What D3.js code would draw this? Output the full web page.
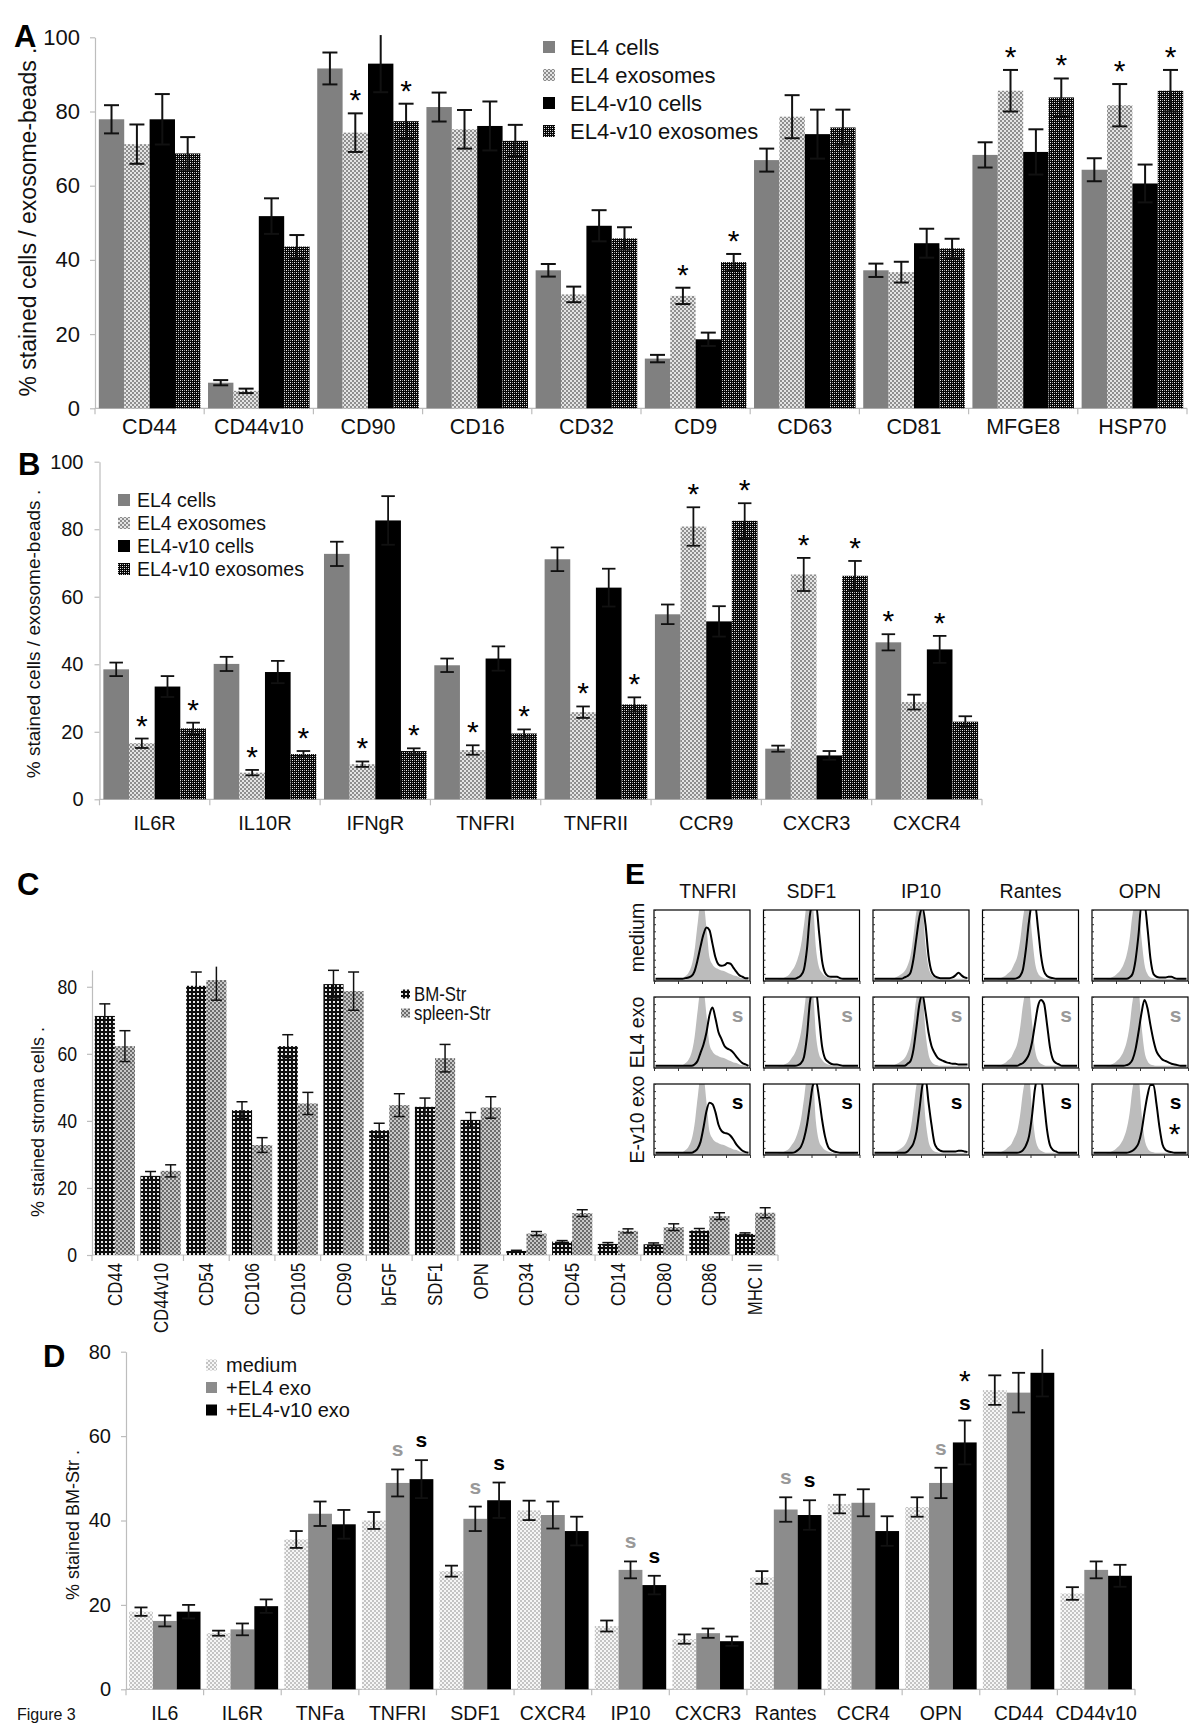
<!DOCTYPE html>
<html><head><meta charset="utf-8">
<script src="https://cdn.jsdelivr.net/npm/d3@7"></script>
<style>body{margin:0;background:#fff}</style>
</head><body>
<svg id="fig" width="1200" height="1730"></svg>
<script>
// ---------------- Panel A data ----------------
const aCategories = ["CD44","CD44v10","CD90","CD16","CD32","CD9","CD63","CD81","MFGE8","HSP70"];
const aSeries = ["EL4 cells","EL4 exosomes","EL4-v10 cells","EL4-v10 exosomes"];
const aEL4Cells    = [77.9, 6.9, 91.6, 81.2, 37.2, 13.4, 66.9, 37.2, 68.3, 64.3];
const aEL4CellsErr = [3.8, 0.7, 4.3, 3.9, 1.7, 1.0, 3.1, 1.8, 3.4, 3.1];
const aEL4Exo      = [71.2, 4.7, 74.3, 75.2, 30.7, 30.3, 78.6, 36.7, 85.6, 81.7];
const aEL4ExoErr   = [5.3, 0.6, 5.2, 5.2, 2.1, 2.2, 5.8, 2.8, 5.6, 5.7];
const aV10Cells    = [77.9, 51.8, 92.9, 76.1, 49.2, 18.6, 73.9, 44.5, 69.1, 60.6];
const aV10CellsErr = [6.8, 4.8, 7.7, 6.6, 4.2, 1.8, 6.6, 3.9, 6.1, 5.1];
const aV10Exo      = [68.7, 43.6, 77.4, 72.1, 45.8, 39.4, 75.7, 43.1, 83.8, 85.6];
const aV10ExoErr   = [4.4, 3.1, 4.7, 4.3, 3.0, 2.2, 4.8, 2.6, 5.1, 5.6];
const aStarEL4Cells = [0,0,0,0,0,0,0,0,0,0];
const aStarEL4Exo   = [0,0,1,0,0,1,0,0,1,1];
const aStarV10Cells = [0,0,0,0,0,0,0,0,0,0];
const aStarV10Exo   = [0,0,1,0,0,1,0,0,1,1];
const aYTicks = [0,20,40,60,80,100];
const aYTitle = "% stained cells / exosome-beads .";

// ---------------- Panel B data ----------------
const bCategories = ["IL6R","IL10R","IFNgR","TNFRI","TNFRII","CCR9","CXCR3","CXCR4"];
const bEL4Cells    = [38.5, 40.1, 72.7, 39.7, 71.1, 54.8, 15.0, 46.5];
const bEL4CellsErr = [2.0, 2.1, 3.6, 2.0, 3.5, 2.9, 0.9, 2.4];
const bEL4Exo      = [16.6, 7.9, 10.4, 14.6, 25.8, 80.8, 66.6, 28.8];
const bEL4ExoErr   = [1.4, 0.8, 0.8, 1.4, 1.7, 5.7, 4.9, 2.2];
const bV10Cells    = [33.4, 37.7, 82.6, 41.7, 62.7, 52.7, 13.0, 44.4];
const bV10CellsErr = [3.1, 3.3, 7.2, 3.6, 5.6, 4.5, 1.3, 4.0];
const bV10Exo      = [21.0, 13.4, 14.3, 19.5, 28.1, 82.5, 66.2, 23.0];
const bV10ExoErr   = [1.7, 0.9, 0.8, 1.2, 2.1, 5.2, 4.4, 1.6];
const bStarEL4Cells = [0,0,0,0,0,0,0,1];
const bStarEL4Exo   = [1,1,1,1,1,1,1,0];
const bStarV10Cells = [0,0,0,0,0,0,0,1];
const bStarV10Exo   = [1,1,1,1,1,1,1,0];
const bYTicks = [0,20,40,60,80,100];
const bYTitle = "% stained cells / exosome-beads .";

// ---------------- Panel C data ----------------
const cCategories = ["CD44","CD44v10","CD54","CD106","CD105","CD90","bFGF","SDF1","OPN","CD34","CD45","CD14","CD80","CD86","MHC II"];
const cSeries = ["BM-Str","spleen-Str"];
const cBM        = [71.3, 23.6, 80.3, 43.2, 62.3, 80.8, 37.2, 44.2, 40.3, 1.2, 4.0, 3.3, 3.2, 7.3, 6.3];
const cBMErr     = [3.6, 1.3, 4.1, 2.5, 3.4, 4.1, 2.1, 2.6, 2.2, 0.2, 0.3, 0.4, 0.4, 0.6, 0.3];
const cSpleen    = [62.3, 25.1, 82.0, 32.8, 45.2, 78.7, 44.7, 58.7, 44.0, 6.4, 12.5, 7.2, 8.3, 11.6, 12.6];
const cSpleenErr = [4.6, 1.8, 6.0, 2.2, 3.3, 5.7, 3.4, 4.1, 3.2, 0.6, 1.0, 0.6, 1.0, 1.0, 1.5];
const cYTicks = [0,20,40,60,80];
const cYTitle = "% stained stroma cells .";

// ---------------- Panel D data ----------------
const dCategories = ["IL6","IL6R","TNFa","TNFRI","SDF1","CXCR4","IP10","CXCR3","Rantes","CCR4","OPN","CD44","CD44v10"];
const dSeries = ["medium","+EL4 exo","+EL4-v10 exo"];
const dMedium    = [18.4, 13.3, 35.5, 40.0, 28.0, 42.4, 15.0, 11.9, 26.5, 43.9, 43.2, 70.9, 22.7];
const dMediumErr = [1.0, 0.6, 2.0, 2.0, 1.3, 2.3, 1.3, 1.1, 1.5, 2.2, 2.3, 3.5, 1.5];
const dEL4       = [16.2, 14.2, 41.6, 48.9, 40.4, 41.3, 28.3, 13.3, 42.6, 44.2, 48.9, 70.3, 28.3];
const dEL4Err    = [1.3, 1.4, 2.9, 3.2, 2.9, 3.2, 2.0, 1.1, 2.9, 3.2, 3.6, 4.7, 2.0];
const dV10       = [18.4, 19.7, 39.1, 49.8, 44.8, 37.5, 24.7, 11.4, 41.3, 37.5, 58.5, 75.0, 26.9];
const dV10Err    = [1.6, 1.6, 3.4, 4.5, 4.2, 3.4, 2.2, 1.1, 3.5, 3.5, 5.2, 5.6, 2.6];
const dSigEL4  = [0,0,0,1,1,0,1,0,1,0,1,0,0];
const dSigV10  = [0,0,0,1,1,0,1,0,1,0,1,0,0];
const dStarV10 = [0,0,0,0,0,0,0,0,0,0,1,0,0];
const dYTicks = [0,20,40,60,80];
const dYTitle = "% stained BM-Str .";

// ---------------- Panel E data (flow histograms, 32 bins, fraction of box height) ----------------
const eColumns = ["TNFRI","SDF1","IP10","Rantes","OPN"];
const eRows = ["medium","EL4 exo","E-v10 exo"];
const eGreyTNFRI  = [0,0,0,0,0,0,0,0.01,0.01,0.02,0.05,0.1,0.2,0.42,0.8,1.1,1.1,0.75,0.32,0.22,0.17,0.15,0.13,0.12,0.1,0.08,0.06,0.05,0.03,0.02,0.01,0];
const eGreySDF1   = [0,0,0,0,0,0.01,0.02,0.04,0.07,0.13,0.2,0.32,0.5,0.8,1.1,1.1,1.05,0.45,0.18,0.1,0.05,0.03,0.02,0.01,0.01,0.01,0.01,0.01,0.01,0.01,0,0];
const eGreyIP10   = [0,0,0,0,0,0,0.01,0.03,0.05,0.08,0.12,0.2,0.35,0.65,1.0,1.1,1.05,0.5,0.18,0.07,0.03,0.02,0.01,0.01,0.01,0.01,0.01,0.01,0.01,0.01,0.01,0];
const eGreyRantes = [0,0,0,0,0,0.01,0.03,0.05,0.09,0.13,0.22,0.32,0.55,0.9,1.1,1.1,0.65,0.25,0.09,0.04,0.02,0.01,0.01,0.01,0.01,0.01,0.01,0.01,0.01,0.01,0.01,0];
const eGreyOPN    = [0,0,0,0,0,0.01,0.03,0.05,0.09,0.14,0.22,0.35,0.58,0.95,1.1,1.1,0.6,0.22,0.08,0.03,0.02,0.01,0.01,0.01,0.01,0.01,0.01,0.01,0.01,0.01,0.01,0];

const eTNFRIMedium = [0.01,0.01,0.01,0.01,0.01,0.01,0.01,0.01,0.01,0.01,0.02,0.03,0.05,0.12,0.28,0.48,0.66,0.76,0.72,0.52,0.32,0.22,0.2,0.21,0.24,0.23,0.17,0.11,0.06,0.04,0.02,0.02];
const eTNFRIEL4    = [0.01,0.01,0.01,0.01,0.01,0.01,0.01,0.01,0.01,0.01,0.01,0.01,0.01,0.03,0.08,0.2,0.32,0.5,0.75,0.86,0.7,0.5,0.4,0.3,0.26,0.24,0.2,0.14,0.09,0.05,0.03,0.01];
const eTNFRIV10    = [0.01,0.01,0.01,0.01,0.01,0.01,0.01,0.01,0.01,0.01,0.01,0.01,0.01,0.03,0.07,0.17,0.38,0.62,0.74,0.72,0.6,0.42,0.33,0.3,0.29,0.26,0.2,0.13,0.08,0.04,0.02,0.01];
const eSDF1Medium  = [0.01,0.01,0.01,0.01,0.01,0.01,0.01,0.01,0.01,0.01,0.01,0.03,0.06,0.15,0.45,0.95,1.1,1.1,0.7,0.28,0.1,0.05,0.04,0.04,0.04,0.02,0.01,0.01,0.01,0.01,0.01,0.01];
const eSDF1EL4     = [0.01,0.01,0.01,0.01,0.01,0.01,0.01,0.01,0.01,0.01,0.01,0.02,0.05,0.14,0.45,0.95,1.1,1.1,0.72,0.3,0.12,0.07,0.04,0.03,0.03,0.02,0.01,0.01,0.01,0.01,0.01,0.01];
const eSDF1V10     = [0.01,0.01,0.01,0.01,0.01,0.01,0.01,0.01,0.01,0.01,0.02,0.05,0.1,0.22,0.42,0.72,1.0,1.05,0.82,0.5,0.25,0.1,0.05,0.03,0.02,0.01,0.01,0.01,0.01,0.01,0.01,0.01];
const eIP10Medium  = [0.01,0.01,0.01,0.01,0.01,0.01,0.01,0.01,0.01,0.01,0.03,0.05,0.1,0.3,0.62,0.92,1.05,0.8,0.35,0.12,0.05,0.03,0.02,0.02,0.02,0.02,0.03,0.06,0.1,0.06,0.03,0.02];
const eIP10EL4     = [0.01,0.01,0.01,0.01,0.01,0.01,0.01,0.01,0.01,0.01,0.01,0.04,0.08,0.25,0.58,0.92,1.05,0.8,0.5,0.3,0.2,0.13,0.1,0.08,0.06,0.05,0.04,0.04,0.03,0.03,0.03,0.03];
const eIP10V10     = [0.01,0.01,0.01,0.01,0.01,0.01,0.01,0.01,0.01,0.01,0.01,0.03,0.08,0.15,0.32,0.65,1.0,1.1,0.75,0.42,0.15,0.07,0.04,0.03,0.03,0.03,0.03,0.03,0.04,0.04,0.03,0.02];
const eRantesMedium = [0.01,0.01,0.01,0.01,0.01,0.01,0.01,0.01,0.01,0.01,0.01,0.02,0.05,0.15,0.45,0.85,1.1,1.1,0.75,0.35,0.12,0.05,0.03,0.02,0.01,0.01,0.01,0.01,0.01,0.01,0.01,0.01];
const eRantesEL4    = [0.01,0.01,0.01,0.01,0.01,0.01,0.01,0.01,0.01,0.01,0.01,0.01,0.03,0.05,0.1,0.18,0.35,0.62,0.88,0.97,0.92,0.62,0.28,0.1,0.05,0.03,0.01,0.01,0.01,0.01,0.01,0.01];
const eRantesV10    = [0.01,0.01,0.01,0.01,0.01,0.01,0.01,0.01,0.01,0.01,0.01,0.01,0.02,0.05,0.12,0.25,0.55,0.95,1.1,1.1,0.75,0.35,0.12,0.05,0.03,0.01,0.01,0.01,0.01,0.01,0.01,0.01];
const eOPNMedium    = [0.01,0.01,0.01,0.01,0.01,0.01,0.01,0.01,0.01,0.01,0.01,0.01,0.03,0.08,0.28,0.65,1.1,1.1,0.75,0.3,0.08,0.04,0.03,0.03,0.03,0.04,0.04,0.02,0.01,0.01,0.01,0.01];
const eOPNEL4       = [0.01,0.01,0.01,0.01,0.01,0.01,0.01,0.01,0.01,0.01,0.01,0.02,0.04,0.1,0.25,0.5,0.78,0.97,0.85,0.6,0.38,0.22,0.15,0.1,0.08,0.06,0.04,0.03,0.02,0.01,0.01,0.01];
const eOPNV10       = [0.01,0.01,0.01,0.01,0.01,0.01,0.01,0.01,0.01,0.01,0.01,0.01,0.02,0.04,0.08,0.15,0.32,0.6,0.85,1.0,1.0,0.72,0.38,0.13,0.05,0.03,0.02,0.01,0.01,0.01,0.01,0.01];
const eSigEL4  = [1,1,1,1,1];
const eSigV10  = [1,1,1,1,1];
const eStarV10 = [0,0,0,0,1];

// ---------------- drawing ----------------
const svg = d3.select("#fig");
svg.append("rect").attr("width",1200).attr("height",1730).attr("fill","#fff");
const FONT = "'Liberation Sans', Arial, sans-serif";
const AXC = "#bdbdbd";
const TXT = "#111";

// condense text along its own direction (imitates a narrow typeface)
function squeeze(sel, f){
  if(!f || f===1) return;
  sel.each(function(){
    const n = this; const L = n.getComputedTextLength();
    d3.select(n).attr("textLength", (L*f).toFixed(2)).attr("lengthAdjust","spacingAndGlyphs");
  });
}

const defs = svg.append("defs");
function pattern(id, size, bg, cells){
  const p = defs.append("pattern").attr("id",id).attr("patternUnits","userSpaceOnUse").attr("width",size).attr("height",size);
  p.append("rect").attr("width",size).attr("height",size).attr("fill",bg);
  cells.forEach(c=>p.append("rect").attr("x",c[0]).attr("y",c[1]).attr("width",c[2]).attr("height",c[3]).attr("fill",c[4]));
}
pattern("pLight",4,"#e4e4e4",[[0,0,2,2,"#8e8e8e"],[2,2,2,2,"#8e8e8e"]]);
pattern("pDark",4,"#050505",[[0,0,1,1,"#f0f0f0"],[2,2,1,1,"#f0f0f0"],[2,0,1,1,"#9a9a9a"],[0,2,1,1,"#9a9a9a"]]);
pattern("pBM",4,"#0d0d0d",[[1,1,2,2,"#e6e6e6"]]);
pattern("pSpleen",4,"#c8c8c8",[[0,0,2,2,"#6c6c6c"],[2,2,2,2,"#6c6c6c"]]);
pattern("pMedium",4,"#f6f6f6",[[0,0,2,2,"#c4c4c4"],[2,2,2,2,"#c4c4c4"]]);

function barPanel(cfg){
  const g = svg.append("g");
  const sq = cfg.squeeze || 1;
  const x = d3.scaleBand().domain(cfg.cats).range([cfg.left, cfg.right]).paddingInner(cfg.pad).paddingOuter(cfg.pad/2);
  const xs = d3.scaleBand().domain(d3.range(cfg.vals.length)).range([0, x.bandwidth()]);
  const y = d3.scaleLinear().domain([0, cfg.max]).range([cfg.bottom, cfg.top]);
  // y axis
  const yg = g.append("g").attr("transform",`translate(${cfg.left},0)`)
    .call(d3.axisLeft(y).tickValues(cfg.ticks).tickSize(5).tickSizeOuter(0).tickPadding(cfg.tickPad));
  yg.select(".domain").attr("stroke",AXC).attr("stroke-width",1.2);
  yg.selectAll(".tick line").attr("stroke",AXC).attr("stroke-width",1.2);
  const yt = yg.selectAll(".tick text").attr("font-size",cfg.yFont).attr("font-family",FONT).attr("fill",TXT);
  squeeze(yt, sq);
  // x axis line + boundary ticks
  g.append("line").attr("x1",cfg.left).attr("x2",cfg.right).attr("y1",cfg.bottom).attr("y2",cfg.bottom).attr("stroke",AXC).attr("stroke-width",1.2);
  const b0 = x(cfg.cats[0]) - x.paddingInner()*x.step()/2;
  g.selectAll(".bt").data(d3.range(cfg.cats.length+1)).join("line")
    .attr("x1",i=>b0+i*x.step()).attr("x2",i=>b0+i*x.step())
    .attr("y1",cfg.bottom).attr("y2",cfg.bottom+6).attr("stroke",AXC).attr("stroke-width",1.2);
  // category labels
  let cl;
  if(cfg.rotate){
    cl = g.selectAll(".cl").data(cfg.cats).join("text")
      .attr("transform",c=>`translate(${x(c)+x.bandwidth()/2},${cfg.labelY}) rotate(-90)`)
      .attr("text-anchor","end").attr("dy","0.35em")
      .attr("font-size",cfg.xFont).attr("font-family",FONT).attr("fill",TXT).text(c=>c);
  } else {
    cl = g.selectAll(".cl").data(cfg.cats).join("text")
      .attr("x",c=>x(c)+x.bandwidth()/2).attr("y",cfg.labelY).attr("text-anchor","middle")
      .attr("font-size",cfg.xFont).attr("font-family",FONT).attr("fill",TXT).text(c=>c);
  }
  squeeze(cl, sq);
  // bars
  cfg.vals.forEach((arr,s)=>{
    g.selectAll(".b"+s).data(arr).join("rect")
      .attr("x",(v,i)=>x(cfg.cats[i])+xs(s)).attr("width",xs.bandwidth())
      .attr("y",v=>y(v)).attr("height",v=>cfg.bottom-y(v)).attr("fill",cfg.fills[s]);
  });
  // error bars and significance marks
  cfg.vals.forEach((arr,s)=>{
    arr.forEach((v,i)=>{
      const e = cfg.errs[s][i];
      const cx = x(cfg.cats[i])+xs(s)+xs.bandwidth()/2;
      const hi = v+e, lo = v-e;
      const eg = g.append("g").attr("stroke","#111").attr("stroke-width",cfg.ew);
      eg.append("line").attr("x1",cx).attr("x2",cx).attr("y1",y(lo)).attr("y2",y(Math.min(hi,cfg.max+1)));
      eg.append("line").attr("x1",cx-cfg.cap/2).attr("x2",cx+cfg.cap/2).attr("y1",y(lo)).attr("y2",y(lo));
      if(hi<=cfg.max) eg.append("line").attr("x1",cx-cfg.cap/2).attr("x2",cx+cfg.cap/2).attr("y1",y(hi)).attr("y2",y(hi));
      const top = y(hi);
      const hasS = cfg.sigs && cfg.sigs[s] && cfg.sigs[s][i];
      const hasStar = cfg.stars && cfg.stars[s] && cfg.stars[s][i];
      if(hasS && hasStar){
        // stacked "*" over "s" as one two-line label
        const t = g.append("text").attr("text-anchor","middle").attr("font-family",FONT).attr("fill","#000");
        t.append("tspan").attr("x",cx).attr("y",top-29).attr("font-size",30).text("*");
        t.append("tspan").attr("x",cx).attr("y",top-10).attr("font-size",21).attr("font-weight","bold")
          .attr("fill",cfg.sigColors[s]).text("s");
      } else if(hasS){
        g.append("text").attr("x",cx).attr("y",top-13).attr("text-anchor","middle")
          .attr("font-size",21).attr("font-weight","bold").attr("font-family",FONT)
          .attr("fill",cfg.sigColors[s]).text("s");
      } else if(hasStar){
        g.append("text").attr("x",cx).attr("y",top-3).attr("text-anchor","middle")
          .attr("font-size",30).attr("font-family",FONT).attr("fill","#000").text("*");
      }
    });
  });
  // y title
  svg.append("text").attr("transform",`translate(${cfg.titleX},${cfg.titleY}) rotate(-90)`)
    .attr("text-anchor","middle").attr("dy","0.35em").attr("font-size",cfg.titleFont)
    .attr("font-family",FONT).attr("fill",TXT).text(cfg.title);
  // legend
  cfg.series.forEach((name,s)=>{
    const cy = cfg.legY + s*cfg.legStep;
    g.append("rect").attr("x",cfg.legX).attr("y",cy-cfg.legSq/2).attr("width",cfg.legSq).attr("height",cfg.legSq).attr("fill",cfg.fills[s]);
    const lt = g.append("text").attr("x",cfg.legX+cfg.legSq+cfg.legGap).attr("y",cy).attr("dy","0.35em")
      .attr("font-size",cfg.legFont).attr("font-family",FONT).attr("fill",TXT).text(name);
    squeeze(lt, sq);
  });
}

function panelLetter(t,x,y,size){
  svg.append("text").attr("x",x).attr("y",y).attr("font-size",size).attr("font-weight","bold")
    .attr("font-family",FONT).attr("fill","#000").text(t);
}

const fillsAB = ["#808080","url(#pLight)","#000","url(#pDark)"];

// Panel A
barPanel({cats:aCategories, series:aSeries, vals:[aEL4Cells,aEL4Exo,aV10Cells,aV10Exo],
  errs:[aEL4CellsErr,aEL4ExoErr,aV10CellsErr,aV10ExoErr], stars:[aStarEL4Cells,aStarEL4Exo,aStarV10Cells,aStarV10Exo],
  fills:fillsAB, left:95, right:1187, top:37.3, bottom:408.3, max:100, ticks:aYTicks, pad:0.07,
  tickPad:10, yFont:22, xFont:21.5, labelY:434, cap:15, ew:2,
  title:aYTitle, titleX:28, titleY:222, titleFont:23,
  legX:543, legY:47, legStep:28, legSq:12, legGap:15, legFont:22});
panelLetter("A",14,47,31);

// Panel B
barPanel({cats:bCategories, series:aSeries, vals:[bEL4Cells,bEL4Exo,bV10Cells,bV10Exo],
  errs:[bEL4CellsErr,bEL4ExoErr,bV10CellsErr,bV10ExoErr], stars:[bStarEL4Cells,bStarEL4Exo,bStarV10Cells,bStarV10Exo],
  fills:fillsAB, left:99.5, right:982, top:461.7, bottom:799.3, max:100, ticks:bYTicks, pad:0.07,
  tickPad:11, yFont:20, xFont:20, labelY:830, cap:13.5, ew:1.8,
  title:bYTitle, titleX:33, titleY:634, titleFont:19,
  legX:118, legY:500, legStep:23, legSq:12, legGap:7, legFont:19.5});
panelLetter("B",18,475,31);

// Panel C
barPanel({cats:cCategories, series:cSeries, vals:[cBM,cSpleen], errs:[cBMErr,cSpleenErr],
  fills:["url(#pBM)","url(#pSpleen)"], left:92, right:778, top:970, bottom:1255, max:85, ticks:cYTicks, pad:0.12,
  tickPad:10, yFont:21, xFont:20, labelY:1263, rotate:true, squeeze:0.84, cap:11, ew:1.5,
  title:cYTitle, titleX:38, titleY:1122, titleFont:18,
  legX:401, legY:994, legStep:19, legSq:9, legGap:4, legFont:20});
panelLetter("C",17,895,31);

// Panel D
barPanel({cats:dCategories, series:dSeries, vals:[dMedium,dEL4,dV10], errs:[dMediumErr,dEL4Err,dV10Err],
  sigs:[null,dSigEL4,dSigV10], sigColors:[null,"#999","#000"], stars:[null,null,dStarV10],
  fills:["url(#pMedium)","#8c8c8c","#000"], left:126, right:1135, top:1351.7, bottom:1689.3, max:80, ticks:dYTicks, pad:0.08,
  tickPad:10, yFont:20, xFont:19.5, labelY:1720, cap:13, ew:1.8,
  title:dYTitle, titleX:73, titleY:1525, titleFont:18,
  legX:206, legY:1365, legStep:22.5, legSq:11, legGap:9, legFont:20});
panelLetter("D",43,1367,31);
svg.append("text").attr("x",17).attr("y",1720).attr("font-size",16).attr("font-family",FONT).attr("fill",TXT).text("Figure 3");

// Panel E
panelLetter("E",625,884,30);
const eGrey = [eGreyTNFRI,eGreySDF1,eGreyIP10,eGreyRantes,eGreyOPN];
const eBlack = [
  [eTNFRIMedium,eTNFRIEL4,eTNFRIV10],
  [eSDF1Medium,eSDF1EL4,eSDF1V10],
  [eIP10Medium,eIP10EL4,eIP10V10],
  [eRantesMedium,eRantesEL4,eRantesV10],
  [eOPNMedium,eOPNEL4,eOPNV10]];
const boxX0 = 654, boxStep = 109.5, boxW = 96, boxY0 = 910, rowStep = 87, boxH = 71;
eColumns.forEach((col,ci)=>{
  const bx = boxX0 + ci*boxStep;
  svg.append("text").attr("x",bx+boxW/2+(ci===0?6:0)).attr("y",898).attr("text-anchor","middle")
    .attr("font-size",19.5).attr("font-family",FONT).attr("fill",TXT).text(col);
  eRows.forEach((row,ri)=>{
    const by = boxY0 + ri*rowStep;
    const cid = `clip${ci}_${ri}`;
    defs.append("clipPath").attr("id",cid).append("rect").attr("x",bx).attr("y",by).attr("width",boxW).attr("height",boxH);
    const g = svg.append("g");
    const xb = d3.scaleLinear().domain([0,31]).range([bx+1.5, bx+boxW-1.5]);
    const yb = d3.scaleLinear().domain([0,1]).range([by+boxH-1.5, by+1]);
    const inner = g.append("g").attr("clip-path",`url(#${cid})`);
    inner.append("path").datum(eGrey[ci])
      .attr("d", d3.area().x((d,i)=>xb(i)).y0(by+boxH).y1(d=>yb(d)).curve(d3.curveMonotoneX))
      .attr("fill","#bcbcbc");
    inner.append("path").datum(eBlack[ci][ri])
      .attr("d", d3.line().x((d,i)=>xb(i)).y(d=>yb(d)).curve(d3.curveMonotoneX))
      .attr("fill","none").attr("stroke","#000").attr("stroke-width",2);
    // frame
    g.append("rect").attr("x",bx).attr("y",by).attr("width",boxW).attr("height",boxH)
      .attr("fill","none").attr("stroke","#000").attr("stroke-width",1.2);
    // axes ticks
    const lx = d3.scaleLog().domain([1,1e4]).range([bx,bx+boxW]);
    const ax = g.append("g").attr("transform",`translate(0,${by+boxH})`)
      .call(d3.axisBottom(lx).ticks(4).tickSize(3).tickSizeOuter(0).tickFormat(""));
    ax.select(".domain").remove();
    ax.selectAll("line").attr("stroke","#333");
    const ly = d3.scaleLinear().domain([0,10]).range([by+boxH,by]);
    const ay = g.append("g").attr("transform",`translate(${bx},0)`)
      .call(d3.axisRight(ly).ticks(10).tickSize(2).tickSizeOuter(0).tickFormat(""));
    ay.select(".domain").remove();
    ay.selectAll("line").attr("stroke","#333");
    // significance marks
    if(ri===1 && eSigEL4[ci]) g.append("text").attr("x",bx+boxW*0.87).attr("y",by+25).attr("text-anchor","middle")
      .attr("font-size",21).attr("font-weight","bold").attr("font-family",FONT).attr("fill","#999").text("s");
    if(ri===2 && eSigV10[ci]) g.append("text").attr("x",bx+boxW*0.87).attr("y",by+25).attr("text-anchor","middle")
      .attr("font-size",21).attr("font-weight","bold").attr("font-family",FONT).attr("fill","#000").text("s");
    if(ri===2 && eStarV10[ci]) g.append("text").attr("x",bx+boxW*0.86).attr("y",by+60).attr("text-anchor","middle")
      .attr("font-size",30).attr("font-family",FONT).attr("fill","#000").text("*");
  });
});
eRows.forEach((row,ri)=>{
  const by = boxY0 + ri*rowStep;
  svg.append("text").attr("transform",`translate(637,${by+boxH/2-(ri===0?8:0)}) rotate(-90)`)
    .attr("text-anchor","middle").attr("dy","0.35em").attr("font-size",19.5).attr("font-family",FONT).attr("fill",TXT).text(row);
});
</script>
</body></html>
